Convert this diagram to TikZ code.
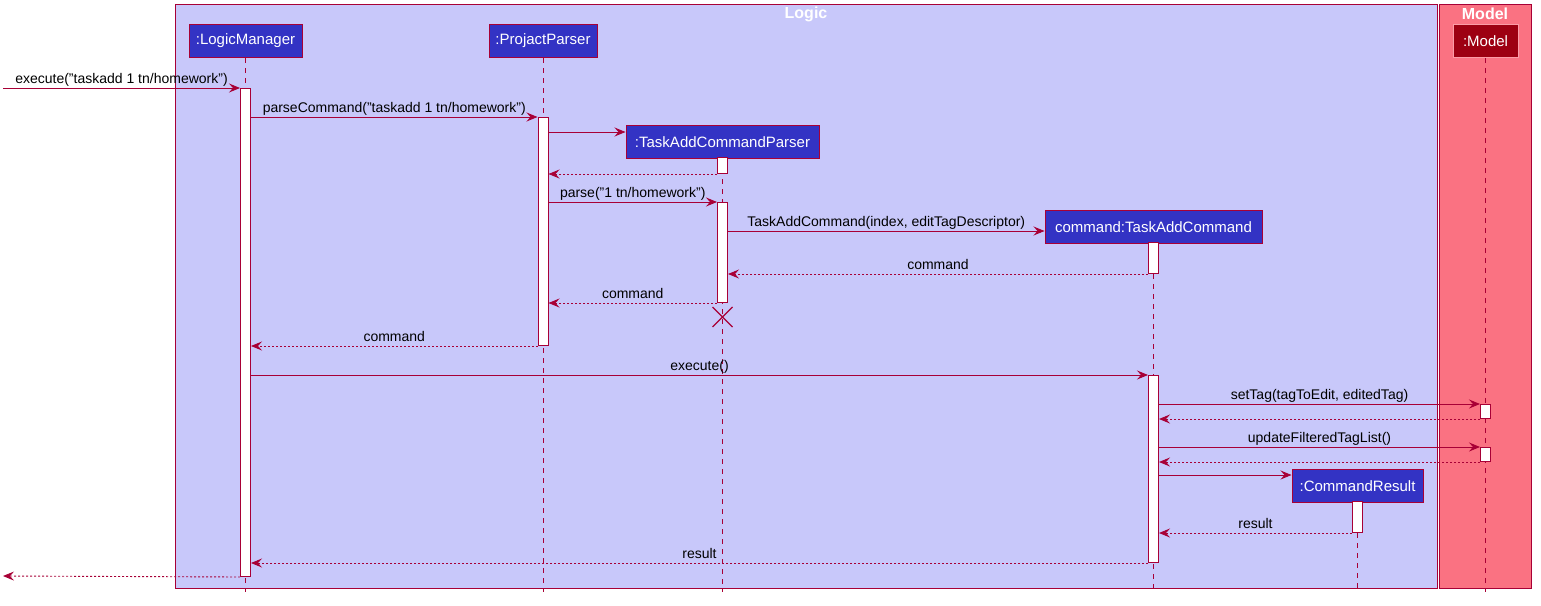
\documentclass[tikz,border=0pt]{standalone}
\usepackage{fontspec}
\setmainfont{Liberation Sans}
\usetikzlibrary{arrows.meta,calc}
\definecolor{lc}{HTML}{A80036}
\definecolor{logicbg}{HTML}{C8C8FA}
\definecolor{partbg}{HTML}{3333C4}
\definecolor{modelbg}{HTML}{FA7282}
\definecolor{modelpart}{HTML}{9D0012}
\begin{document}
\begin{tikzpicture}[x=1pt,y=-1pt,
  frame/.style={draw=lc, line width=1pt},
  ttl/.style={text=white, font=\fontsize{16}{18}\selectfont\bfseries, inner sep=0pt, anchor=center},
  part/.style={draw=lc, line width=1pt, fill=partbg, text=white, font=\fontsize{15}{17}\selectfont, minimum height=33pt, inner sep=0pt, anchor=north},
  life/.style={draw=lc, dash pattern=on 5pt off 5pt, line width=0.8pt},
  act/.style={draw=lc, fill=white, line width=1pt, minimum width=10pt, inner sep=0pt, anchor=north},
  msg/.style={draw=lc, line width=0.9pt, -{Stealth[length=11pt,width=9pt,inset=4pt]}},
  ret/.style={msg, dash pattern=on 2pt off 2pt},
  lbl/.style={font=\fontsize{14}{16}\selectfont, text=black, inner sep=0pt, anchor=base, yshift=4.5pt}
]
\useasboundingbox (0,0) rectangle (1541,605);
% frames
\draw[frame, fill=logicbg] (175,4) rectangle (1437,588);
\draw[frame, fill=modelbg] (1439,4) rectangle (1531,588);
\node[ttl] (tlogic) at (806,14) {Logic};
\node[ttl] (tmodel) at (1485,14) {Model};
% participants
\node[part, minimum width=113pt] (lm) at (245.5,24) {:LogicManager};
\node[part, minimum width=108pt] (pp) at (543,24) {:ProjactParser};
\node[part, minimum width=193pt] (tacp) at (722.5,125) {:TaskAddCommandParser};
\node[part, minimum width=217pt] (tac) at (1153.5,210) {command:TaskAddCommand};
\node[part, minimum width=131pt] (cr) at (1357.5,469) {:CommandResult};
\node[part, minimum width=65pt, fill=modelpart, draw=modelbg!70!white] (md) at (1485.5,24) {:Model};
% lifeline ends
\coordinate (lmE) at (245.5,592);
\coordinate (ppE) at (543,592);
\coordinate (tacpE) at (722.5,592);
\coordinate (tacE) at (1153.5,592);
\coordinate (crE) at (1357.5,592);
\coordinate (mdE) at (1485.5,592);
\draw[life] (lm.south) -- (lmE);
\draw[life] (pp.south) -- (ppE);
\draw[life] (tacp.south) -- (tacpE);
\draw[life] (tac.south) -- (tacE);
\draw[life] (cr.south) -- (crE);
\draw[life] (md.south) -- (mdE);
% activations
\node[act, minimum height=488pt] (lmA) at (245.5,88) {};
\node[act, minimum height=228pt] (ppA) at (543,117) {};
\node[act, minimum height=16pt] (tacpA1) at (722.5,157) {};
\node[act, minimum height=100pt] (tacpA2) at (722.5,202) {};
\node[act, minimum height=31pt] (tacA1) at (1153.5,242) {};
\node[act, minimum height=187pt] (tacA2) at (1153.5,375) {};
\node[act, minimum height=14pt] (mdA1) at (1485.5,404) {};
\node[act, minimum height=14pt] (mdA2) at (1485.5,447) {};
\node[act, minimum height=31pt] (crA) at (1357.5,501) {};
% outside ends
\coordinate (inS) at (3,88);
\coordinate (outE) at (3,576);
% messages
\draw[msg] (inS) -- node[lbl] {execute("taskadd 1 tn/homework")} (lmA.north west);
\draw[msg] (lmA.east |- 0,117) -- node[lbl] {parseCommand("taskadd 1 tn/homework")} (ppA.north west);
\draw[msg] (ppA.east |- 0,132) -- (tacp.west |- 0,132);
\draw[ret] (tacpA1.south west) -- (ppA.east |- tacpA1.south);
\draw[msg] (ppA.east |- 0,202) -- node[lbl] {parse("1 tn/homework")} (tacpA2.north west);
\draw[msg] (tacpA2.east |- 0,231) -- node[lbl] {TaskAddCommand(index, editTagDescriptor)} (tac.west |- 0,231);
\draw[ret] (tacA1.south west) -- node[lbl] {command} (tacpA2.east |- tacA1.south);
\draw[ret] (tacpA2.south west) -- node[lbl] {command} (ppA.east |- tacpA2.south);
\draw[lc, line width=1.2pt] (712.5,307) -- (732.5,327) (712.5,327) -- (732.5,307);
\draw[ret] (ppA.south west) -- node[lbl] {command} (lmA.east |- ppA.south);
\draw[msg] (lmA.east |- 0,375) -- node[lbl] {execute()} (tacA2.north west);
\draw[msg] (tacA2.east |- 0,404) -- node[lbl] {setTag(tagToEdit, editedTag)} (mdA1.north west);
\draw[ret] (mdA1.south west) -- (tacA2.east |- mdA1.south);
\draw[msg] (tacA2.east |- 0,447) -- node[lbl] {updateFilteredTagList()} (mdA2.north west);
\draw[ret] (mdA2.south west) -- (tacA2.east |- mdA2.south);
\draw[msg] (tacA2.east |- 0,475) -- (cr.west |- 0,475);
\draw[ret] (crA.south west) -- node[lbl] {result} (tacA2.east |- crA.south);
\draw[ret] (tacA2.south west) -- node[lbl] {result} (lmA.east |- tacA2.south);
\draw[ret] (lmA.south west) -- (outE);
\end{tikzpicture}
\end{document}
